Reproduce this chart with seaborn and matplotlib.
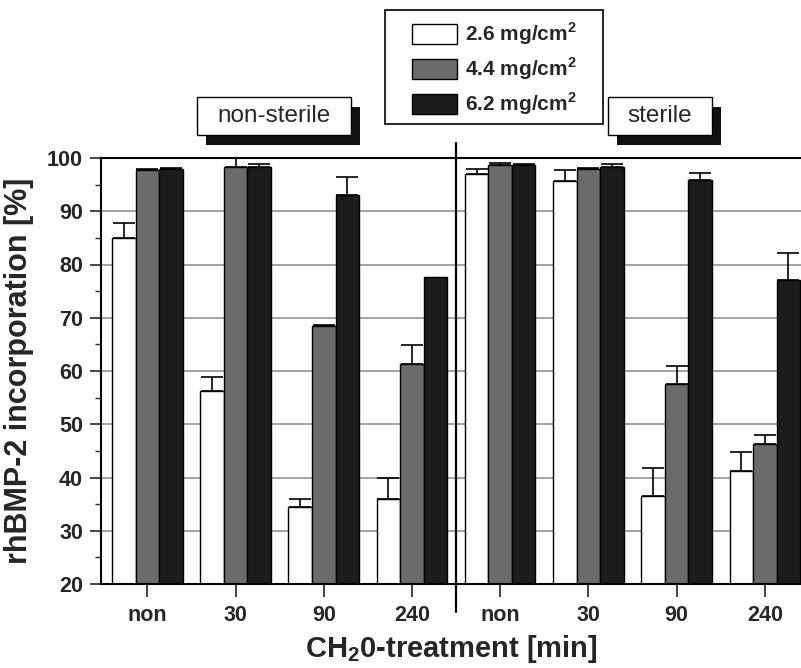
import numpy as np
import pandas as pd
import seaborn as sns
import matplotlib.pyplot as plt
from matplotlib.patches import Rectangle
from matplotlib.ticker import MultipleLocator

# values
groups = ['ns_non', 'ns_30', 'ns_90', 'ns_240', 's_non', 's_30', 's_90', 's_240']
tick_labels = ['non', '30', '90', '240', 'non', '30', '90', '240']
doses = ['2.6 mg/cm$^\\mathbf{2}$', '4.4 mg/cm$^\\mathbf{2}$', '6.2 mg/cm$^\\mathbf{2}$']
vals_26 = [85.0, 56.2, 34.4, 36.0, 97.0, 95.7, 36.5, 41.2]
vals_44 = [97.7, 98.3, 68.4, 61.4, 98.6, 97.9, 57.5, 46.2]
vals_62 = [97.9, 98.3, 93.0, 77.6, 98.6, 98.4, 95.8, 77.1]
err_26 = [2.85, 2.6, 1.5, 4.0, 0.9, 2.0, 5.2, 3.5]
err_44 = [0.3, 2.3, 0.3, 3.5, 0.5, 0.2, 3.5, 1.7]
err_62 = [0.3, 0.5, 3.4, 0.0, 0.2, 0.5, 1.4, 5.1]
colors = ['white', '#6b6b6b', '#1c1c1c']

df = pd.DataFrame({
    'group': groups * 3,
    'value': vals_26 + vals_44 + vals_62,
    'dose': [doses[0]] * 8 + [doses[1]] * 8 + [doses[2]] * 8,
})
errs = [err_26, err_44, err_62]

sns.set_style('white')
plt.rcParams['font.family'] = ['Liberation Sans', 'DejaVu Sans']
plt.rcParams['mathtext.fontset'] = 'custom'
plt.rcParams['mathtext.bf'] = 'Liberation Sans:bold'
plt.rcParams['mathtext.rm'] = 'Liberation Sans:bold'

W, H = 801, 668
fig = plt.figure(figsize=(W / 100, H / 100), dpi=100)
ax = fig.add_axes([101 / W, 1 - 584 / H, 700 / W, 426 / H])

sns.barplot(data=df, x='group', y='value', hue='dose', order=groups, hue_order=doses,
            palette=colors, edgecolor='black', linewidth=1.0, errorbar=None,
            width=0.8, legend=False, ax=ax, zorder=2)

# upper-only error bars
for cont, err in zip(ax.containers, errs):
    for bar, e in zip(cont.patches, err):
        if e <= 0:
            continue
        xc = bar.get_x() + bar.get_width() / 2
        ax.errorbar(xc, bar.get_height(), yerr=[[0], [e]], fmt='none', ecolor='black',
                    elinewidth=1.2, capsize=8, capthick=1.2, zorder=3)

ax.set_ylim(20, 100)
ax.set_xlim(-0.525, 7.41)
ax.yaxis.set_major_locator(MultipleLocator(10))
ax.yaxis.set_minor_locator(MultipleLocator(5))
ax.set_axisbelow(True)
ax.yaxis.grid(True, color='#8a8a8a', linewidth=1.1, zorder=0)
ax.xaxis.grid(False)

for s in ['left', 'bottom', 'top']:
    ax.spines[s].set_linewidth(1.5)
    ax.spines[s].set_color('black')
ax.spines['right'].set_visible(False)

ax.set_xticks(range(8))
ax.set_xticklabels(tick_labels)
ax.tick_params(axis='x', direction='out', length=9, width=1.2, pad=6, labelsize=15.5)
ax.tick_params(axis='y', which='major', direction='out', length=8, width=1.2, pad=5, labelsize=15.5)
ax.tick_params(axis='y', which='minor', direction='out', length=4, width=1.0)
ax.tick_params(left=True, bottom=True, which='both')
for lab in ax.get_xticklabels() + ax.get_yticklabels():
    lab.set_fontweight('bold')

ax.set_xlabel('CH$_\\mathbf{2}$0-treatment [min]', fontsize=21, fontweight='bold', labelpad=5)
ax.set_ylabel('rhBMP-2 incorporation [%]', fontsize=22, fontweight='bold', labelpad=9)

# divider between non-sterile and sterile
ax.plot([3.5, 3.5], [14.8, 102.8], color='black', linewidth=1.6, clip_on=False, zorder=4)


def fx(x):
    return x / W


def fy(y):
    return 1 - y / H


def shadow_box(x0, y0, x1, y1, text):
    fig.add_artist(Rectangle((fx(x0 + 9), fy(y1 + 10)), fx(x1 - x0), (y1 - y0) / H,
                             transform=fig.transFigure, facecolor='#111111', edgecolor='none'))
    fig.add_artist(Rectangle((fx(x0), fy(y1)), fx(x1 - x0), (y1 - y0) / H,
                             transform=fig.transFigure, facecolor='white', edgecolor='black',
                             linewidth=1.0))
    fig.text(fx((x0 + x1) / 2), fy((y0 + y1) / 2), text, ha='center', va='center', fontsize=17.5)


shadow_box(197, 97, 351, 135, 'non-sterile')
shadow_box(608, 97, 712, 135, 'sterile')

# legend with square frame
fig.add_artist(Rectangle((fx(385), fy(124)), fx(218), 114 / H, transform=fig.transFigure,
                         facecolor='white', edgecolor='black', linewidth=1.2))
leg = fig.legend(ax.containers, doses, loc='center', bbox_to_anchor=(fx(494), fy(69)),
                 frameon=False, borderpad=0, handlelength=2.2, handleheight=1.05,
                 handletextpad=0.35, labelspacing=0.4, prop={'size': 15, 'weight': 'bold'})

fig.savefig('out.png', dpi=100)
